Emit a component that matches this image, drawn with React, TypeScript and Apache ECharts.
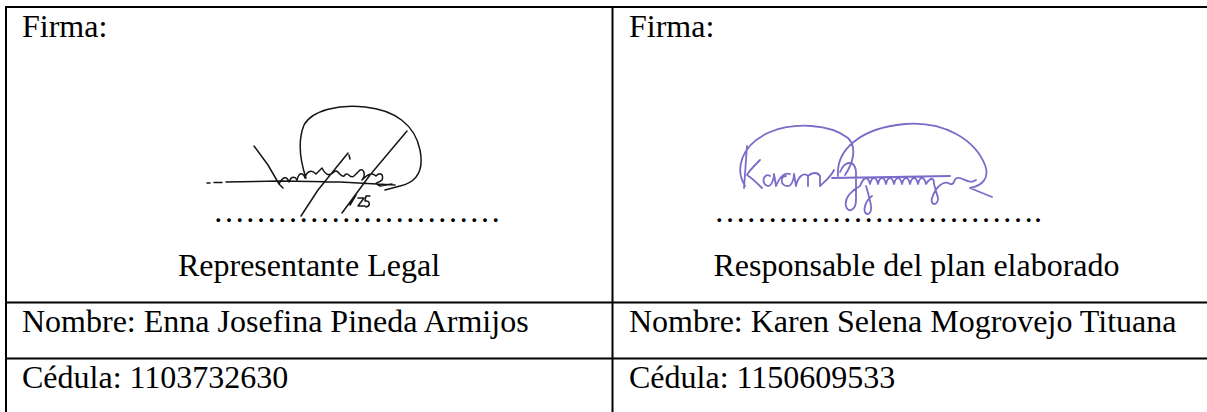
import React, { useEffect, useRef } from "react";
import * as echarts from "echarts";

const signLabels = ["Firma:", "Firma:"];
const roles = ["Representante Legal", "Responsable del plan elaborado"];
const names = ["Nombre: Enna Josefina Pineda Armijos", "Nombre: Karen Selena Mogrovejo Tituana"];
const ids = ["Cédula: 1103732630", "Cédula: 1150609533"];
const ellipsisCounts = [9, 10];
const dotTails = ["", "."];

const leftSignature =
  "M207 183 L210 183 M214 182.5 L222 182.5 M226 182 L280 181 L340 182 L395 185 " +
  "M254 146 L268 165 L279 184 L283 188 " +
  "M279 184 C283 176 287 176 289 182 C291 176 295 176 297 180 C299 172 303 172 305 178 C307 170 312 170 316 174 L322 168 C326 176 330 176 334 172 C338 168 340 178 344 176 C348 170 350 180 354 176 L360 170 C364 168 366 176 362 180 C368 174 372 172 376 176 C380 172 384 174 382 180 C378 184 372 182 380 186 L392 184 " +
  "M301 216 L318 190 L348 153 M342 213 L370 175 L407 131 " +
  "M306 178 C300 160 298 140 304 125 C312 110 340 104 365 107 C395 110 415 125 420 150 C424 170 418 182 400 186 L385 190 " +
  "M349 155 L350 159 " +
  "M350 205 L356 195 M358 198 L364 198 L358 206 L365 206 M370 196 L366 196 L365 201 C370 200 371 206 366 207";

const rightSignature =
  "M745 186 C735 170 740 145 770 132 C795 122 830 124 848 138 C858 148 852 165 845 175 " +
  "M838 176 C836 150 860 128 905 124 C945 121 975 140 985 165 C990 178 982 186 970 188 L992 197 " +
  "M747 146 L744 188 M760 160 C752 168 748 172 747 175 C752 178 758 184 762 188 " +
  "M770 176 C764 172 760 184 768 186 C772 186 774 178 774 174 L776 186 C780 176 784 172 790 174 M786 176 C780 176 780 186 788 186 C792 186 794 178 794 174 L796 186 C798 176 804 172 808 176 L808 186 M808 176 C812 172 818 172 820 176 L820 186 C824 182 830 178 834 170 " +
  "M840 172 C845 160 855 160 856 172 L856 200 C856 210 848 214 846 206 C844 198 852 190 860 186 C864 176 868 176 870 184 C872 176 876 176 878 184 C880 176 884 176 886 184 C888 176 892 176 894 184 C896 176 900 176 902 184 C904 176 908 176 910 184 C912 176 916 176 918 184 C920 176 924 176 926 184 C930 178 934 176 934 184 L938 198 C938 206 930 206 932 198 C936 186 944 180 950 184 C956 186 952 176 960 178 C966 180 970 184 976 180 " +
  "M832 178 L950 176 " +
  "M866 186 C870 200 874 212 868 214 C862 214 864 202 872 196";

echarts.graphic.registerShape("sigLeft", echarts.graphic.extendPath(leftSignature, {}) as any);
echarts.graphic.registerShape("sigRight", echarts.graphic.extendPath(rightSignature, {}) as any);

const FAMILY = "Liberation Serif";
const SIZE = 32;
const MID = 10.8; // baseline offset for middle alignment

export default function App() {
  const ref = useRef<HTMLDivElement>(null);
  useEffect(() => {
    document.body.style.margin = "0";
    const chart = echarts.init(ref.current!, null, { renderer: "svg" });
    const colX = [22, 629];
    const roleCx = [309, 916.5];
    const dotX = [213, 714];
    const elements: any[] = [];
    const line = (x1: number, y1: number, x2: number, y2: number) => ({
      type: "line",
      shape: { x1, y1, x2, y2 },
      style: { stroke: "#000", lineWidth: 2 },
      silent: true,
    });
    elements.push(line(5, 7, 1207, 7));
    elements.push(line(5, 302.5, 1207, 302.5));
    elements.push(line(5, 358.5, 1207, 358.5));
    elements.push(line(6, 6, 6, 412));
    elements.push(line(612.5, 6, 612.5, 412));
    const txt = (text: string, x: number, baseline: number, align = "left") => ({
      type: "text",
      style: {
        text,
        x,
        y: baseline - MID,
        fontFamily: FAMILY,
        fontSize: SIZE,
        fill: "#000",
        textAlign: align,
        textVerticalAlign: "middle",
      },
      silent: true,
    });
    for (let i = 0; i < 2; i++) {
      elements.push(txt(signLabels[i], colX[i], 37));
      elements.push(txt("\u2026".repeat(ellipsisCounts[i]) + dotTails[i], dotX[i], 222));
      elements.push(txt(roles[i], roleCx[i], 276, "center"));
      elements.push(txt(names[i], colX[i], 332));
      elements.push(txt(ids[i], colX[i], 388));
    }
    elements.push({
      type: "sigLeft",
      x: 0,
      y: 0,
      style: { fill: "none", stroke: "#151515", lineWidth: 1.5, lineJoin: "round", lineCap: "round" },
      silent: true,
    });
    elements.push({
      type: "sigRight",
      x: 0,
      y: 0,
      style: { fill: "none", stroke: "#7a6cc8", lineWidth: 1.8, lineJoin: "round", lineCap: "round" },
      silent: true,
    });
    chart.setOption({
      animation: false,
      backgroundColor: "#fff",
      graphic: { elements },
    });
    return () => chart.dispose();
  }, []);
  return <div ref={ref} style={{ width: 1207, height: 412 }} />;
}
